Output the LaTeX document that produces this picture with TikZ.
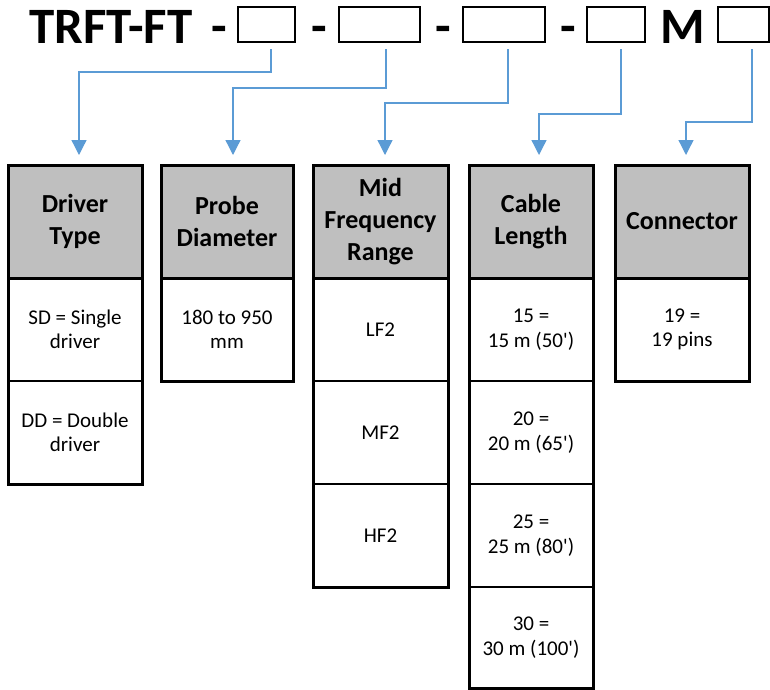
\documentclass[tikz,border=0pt]{standalone}
\usepackage{fontspec}
\setmainfont{Carlito}
\usetikzlibrary{positioning,arrows.meta}
\definecolor{linkblue}{HTML}{5B9BD5}
\definecolor{hdrgray}{HTML}{BFBFBF}
\newcommand{\bigfont}{\fontsize{51}{60}\selectfont\bfseries}
\newcommand{\hdrfont}{\fontsize{26}{32}\selectfont\bfseries}
\newcommand{\cellfont}{\fontsize{21}{24.5}\selectfont}

\begin{document}
\begin{tikzpicture}
[
    x=1pt, y=-1pt,
    code/.style={font=\bigfont, inner sep=0pt, anchor=base},
    slot/.style={draw, line width=2.6pt, inner sep=0pt, outer sep=0pt, minimum height=35pt},
    hdr/.style={draw, line width=3pt, fill=hdrgray, minimum height=113pt, inner sep=0pt, outer sep=0pt, align=flush center, font=\hdrfont},
    cell/.style={draw, line width=1.6pt, minimum height=103pt, inner sep=0pt, outer sep=0pt, align=flush center, font=\cellfont, below=0pt of #1},
    frame/.style={draw, line width=3pt},
    link/.style={draw=linkblue, line width=1.3pt, -{Triangle[length=15pt,width=15pt]}, linkblue},
]
\useasboundingbox (0,0) rectangle (770,689);

% part number
\node [code, anchor=base west] (title) at (29,43) {TRFT-FT};
\node [code] (d1) at (219,43) {-};
\node [slot, minimum width=57pt] (b1) at (266.5,24.5) {};
\node [code] (d2) at (319,43) {-};
\node [slot, minimum width=81pt] (b2) at (379.5,24.5) {};
\node [code] (d3) at (443.5,43) {-};
\node [slot, minimum width=82pt] (b3) at (504,24.5) {};
\node [code] (d4) at (568.5,43) {-};
\node [slot, minimum width=58pt] (b4) at (616,24.5) {};
\node [code] (m) at (683,43) {M};
\node [slot, minimum width=51pt] (b5) at (743.5,24.5) {};

% tables
\node [hdr, text width=134pt, anchor=north west] (t1) at (8,165) {Driver\\Type};
\node [cell=t1, text width=134pt] (t1a) {SD = Single\\driver};
\node [cell=t1a, text width=134pt] (t1b) {DD = Double\\driver};
\draw [frame] (t1.north west) rectangle (t1b.south east);

\node [hdr, text width=132pt, anchor=north west] (t2) at (161,165) {Probe\\Diameter};
\node [cell=t2, text width=132pt] (t2a) {180 to 950\\mm};
\draw [frame] (t2.north west) rectangle (t2a.south east);

\node [hdr, text width=135pt, anchor=north west] (t3) at (313,165) {Mid\\Frequency\\Range};
\node [cell=t3, text width=135pt] (t3a) {LF2};
\node [cell=t3a, text width=135pt] (t3b) {MF2};
\node [cell=t3b, text width=135pt] (t3c) {HF2};
\draw [frame] (t3.north west) rectangle (t3c.south east);

\node [hdr, text width=124pt, anchor=north west] (t4) at (469,165) {Cable\\Length};
\node [cell=t4, text width=124pt] (t4a) {15 =\\15 m (50\textquotesingle)};
\node [cell=t4a, text width=124pt] (t4b) {20 =\\20 m (65\textquotesingle)};
\node [cell=t4b, text width=124pt] (t4c) {25 =\\25 m (80\textquotesingle)};
\node [cell=t4c, text width=124pt, minimum height=101pt] (t4d) {30 =\\30 m (100\textquotesingle)};
\draw [frame] (t4.north west) rectangle (t4d.south east);

\node [hdr, text width=134pt, anchor=north west] (t5) at (615,165) {Connector};
\node [cell=t5, text width=134pt] (t5a) {19 =\\19 pins};
\draw [frame] (t5.north west) rectangle (t5a.south east);

% connectors
\draw [link] ([xshift=4.5pt,yshift=-7pt]b1.south) -- ++(0,23) -| ([xshift=4pt,yshift=10pt]t1.north);
\draw [link] ([xshift=6.5pt,yshift=-7pt]b2.south) -- ++(0,39) -| ([xshift=6pt,yshift=10pt]t2.north);
\draw [link] ([xshift=4pt,yshift=-7pt]b3.south) -- ++(0,54) -| ([xshift=4.5pt,yshift=10pt]t3.north);
\draw [link] ([xshift=5pt,yshift=-7pt]b4.south) -- ++(0,65) -| ([xshift=8pt,yshift=10pt]t4.north);
\draw [link] ([xshift=8.5pt,yshift=-7pt]b5.south) -- ++(0,73) -| ([xshift=4pt,yshift=10pt]t5.north);
\end{tikzpicture}
\end{document}
